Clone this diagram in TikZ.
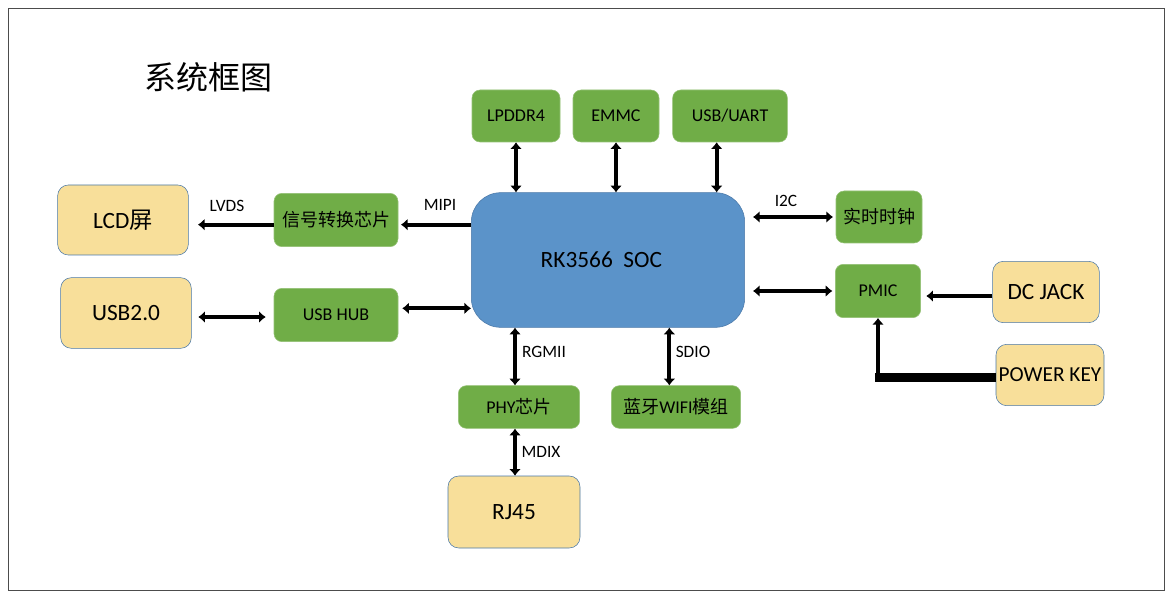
\documentclass[tikz,border=0pt]{standalone}
\usepackage{fontspec}
\setmainfont{Carlito}
\newfontfamily\cjk{Noto Sans CJK SC}
\usetikzlibrary{arrows.meta,positioning,calc}

\definecolor{chipgreen}{HTML}{70AD47}
\definecolor{socblue}{HTML}{5B93C9}
\definecolor{portyellow}{HTML}{F8DF9A}
\definecolor{edgeblue}{HTML}{4A78A8}

\tikzset{
  chip/.style={fill=chipgreen, draw=chipgreen!75!white, rounded corners=6pt, inner sep=0pt,
    font=\fontsize{13.5}{16}\selectfont},
  port/.style={fill=portyellow, draw=edgeblue, rounded corners=8pt, inner sep=0pt,
    font=\fontsize{17.5}{20}\selectfont},
  lbl/.style={font=\fontsize{13}{15}\selectfont},
  biarr/.style={line width=3pt, {Latex[length=5pt,width=9pt]}-{Latex[length=5pt,width=9pt]}},
  onearr/.style={line width=3pt, -{Latex[length=5pt,width=9pt]}},
}

\begin{document}
\begin{tikzpicture}[x=0.75pt, y=-0.75pt]
  \useasboundingbox (0,0) rectangle (1175,599);
  \draw[black!70] (8,8) rectangle (1164,590);

  \node[font=\cjk\fontsize{24}{28}\selectfont] (title) at (208,77) {系统框图};

  % main soc
  \node[fill=socblue, draw=edgeblue, rounded corners=22pt, minimum width=205pt, minimum height=101pt,
    font=\fontsize{17.5}{20}\selectfont] (soc) at (608,260)
    {RK3566\ \ SOC\hspace*{10pt}};

  % top row
  \node[chip, minimum width=66pt, minimum height=39pt] (lpddr) at (516,116) {LPDDR4};
  \node[chip, minimum width=64.5pt, minimum height=39pt] (emmc) at (616,116) {EMMC};
  \node[chip, minimum width=86pt, minimum height=39pt] (usbuart) at (730,116) {USB/UART};

  % left side
  \node[chip, minimum width=93pt, minimum height=40pt] (sigconv) at (336,220) {\cjk 信号转换芯片};
  \node[chip, minimum width=93pt, minimum height=40pt] (usbhub) at (336,315) {USB HUB};
  \node[port, minimum width=98pt, minimum height=52.5pt] (lcd) at (123,220) {LCD{\cjk 屏}};
  \node[port, minimum width=98pt, minimum height=53pt] (usb) at (126,313) {USB2.0};

  % right side
  \node[chip, minimum width=64.5pt, minimum height=39pt] (rtc) at (879,217) {\cjk 实时时钟};
  \node[chip, minimum width=64pt, minimum height=40pt] (pmic) at (878,291) {PMIC};
  \node[port, minimum width=80pt, minimum height=46pt] (dcjack) at (1046,292) {DC JACK};
  \node[port, minimum width=81pt, minimum height=46pt, font=\fontsize{16}{19}\selectfont] (pwrkey) at (1050,375) {POWER KEY};

  % bottom
  \node[chip, minimum width=91pt, minimum height=32pt] (phy) at (519,407) {PHY{\cjk 芯片}};
  \node[chip, minimum width=97pt, minimum height=32pt] (wifi) at (676,407) {{\cjk 蓝牙}WIFI{\cjk 模组}};
  \node[port, minimum width=99pt, minimum height=54pt] (rj) at (514,512) {RJ45};

  % connectors
  \draw[biarr] (lpddr.south) -- (lpddr.south |- soc.north);
  \draw[biarr] (emmc.south) -- (emmc.south |- soc.north);
  \draw[biarr] ([xshift=-10pt]usbuart.south) -- ([xshift=-10pt]usbuart.south |- soc.north);

  \draw[onearr] ([yshift=-3.5pt]soc.west |- sigconv.east) -- ([yshift=-3.5pt,xshift=2pt]sigconv.east);
  \draw[onearr] ([yshift=-3.5pt]sigconv.west) -- ([yshift=-3.5pt,xshift=7pt]lcd.east |- sigconv.west);
  \draw[biarr] ([yshift=5pt,xshift=3pt]usbhub.east) -- ([yshift=5pt]soc.west |- usbhub.east);
  \draw[biarr] ([yshift=-1.5pt,xshift=-6pt]usbhub.west) -- ([yshift=-1.5pt,xshift=5pt]usb.east |- usbhub.west);

  \draw[biarr] ([xshift=6pt]soc.east |- rtc.west) -- ([xshift=-2pt]rtc.west);
  \draw[biarr] ([xshift=6pt]soc.east |- pmic.west) -- ([xshift=-2pt]pmic.west);
  \draw[onearr, line width=2.5pt] ([yshift=-3pt]dcjack.west) -- ([yshift=-3pt,xshift=4pt]dcjack.west -| pmic.east);
  \draw[line width=6.5pt] ([yshift=-2pt]pwrkey.west) -- ([yshift=-2pt,xshift=-2pt]pmic.south |- pwrkey.west);
  \draw[onearr] ([yshift=-4pt]pmic.south |- pwrkey.west) -- (pmic.south);

  \draw[biarr] ([xshift=-3pt]phy.north) -- ([xshift=-3pt]phy.north |- soc.south);
  \draw[biarr] ([xshift=-5pt]wifi.north) -- ([xshift=-5pt]wifi.north |- soc.south);
  \draw[biarr] ([xshift=-3pt]phy.south) -- ([xshift=-3pt]phy.south |- rj.north);

  % bus labels
  \node[lbl] (mipi) at (440,205) {MIPI};
  \node[lbl] (lvds) at (227,206) {LVDS};
  \node[lbl] (i2c) at (786,201) {I2C};
  \node[lbl] (rgmii) at (544,352) {RGMII};
  \node[lbl] (sdio) at (693,352) {SDIO};
  \node[lbl] (mdix) at (541,452) {MDIX};
\end{tikzpicture}
\end{document}
